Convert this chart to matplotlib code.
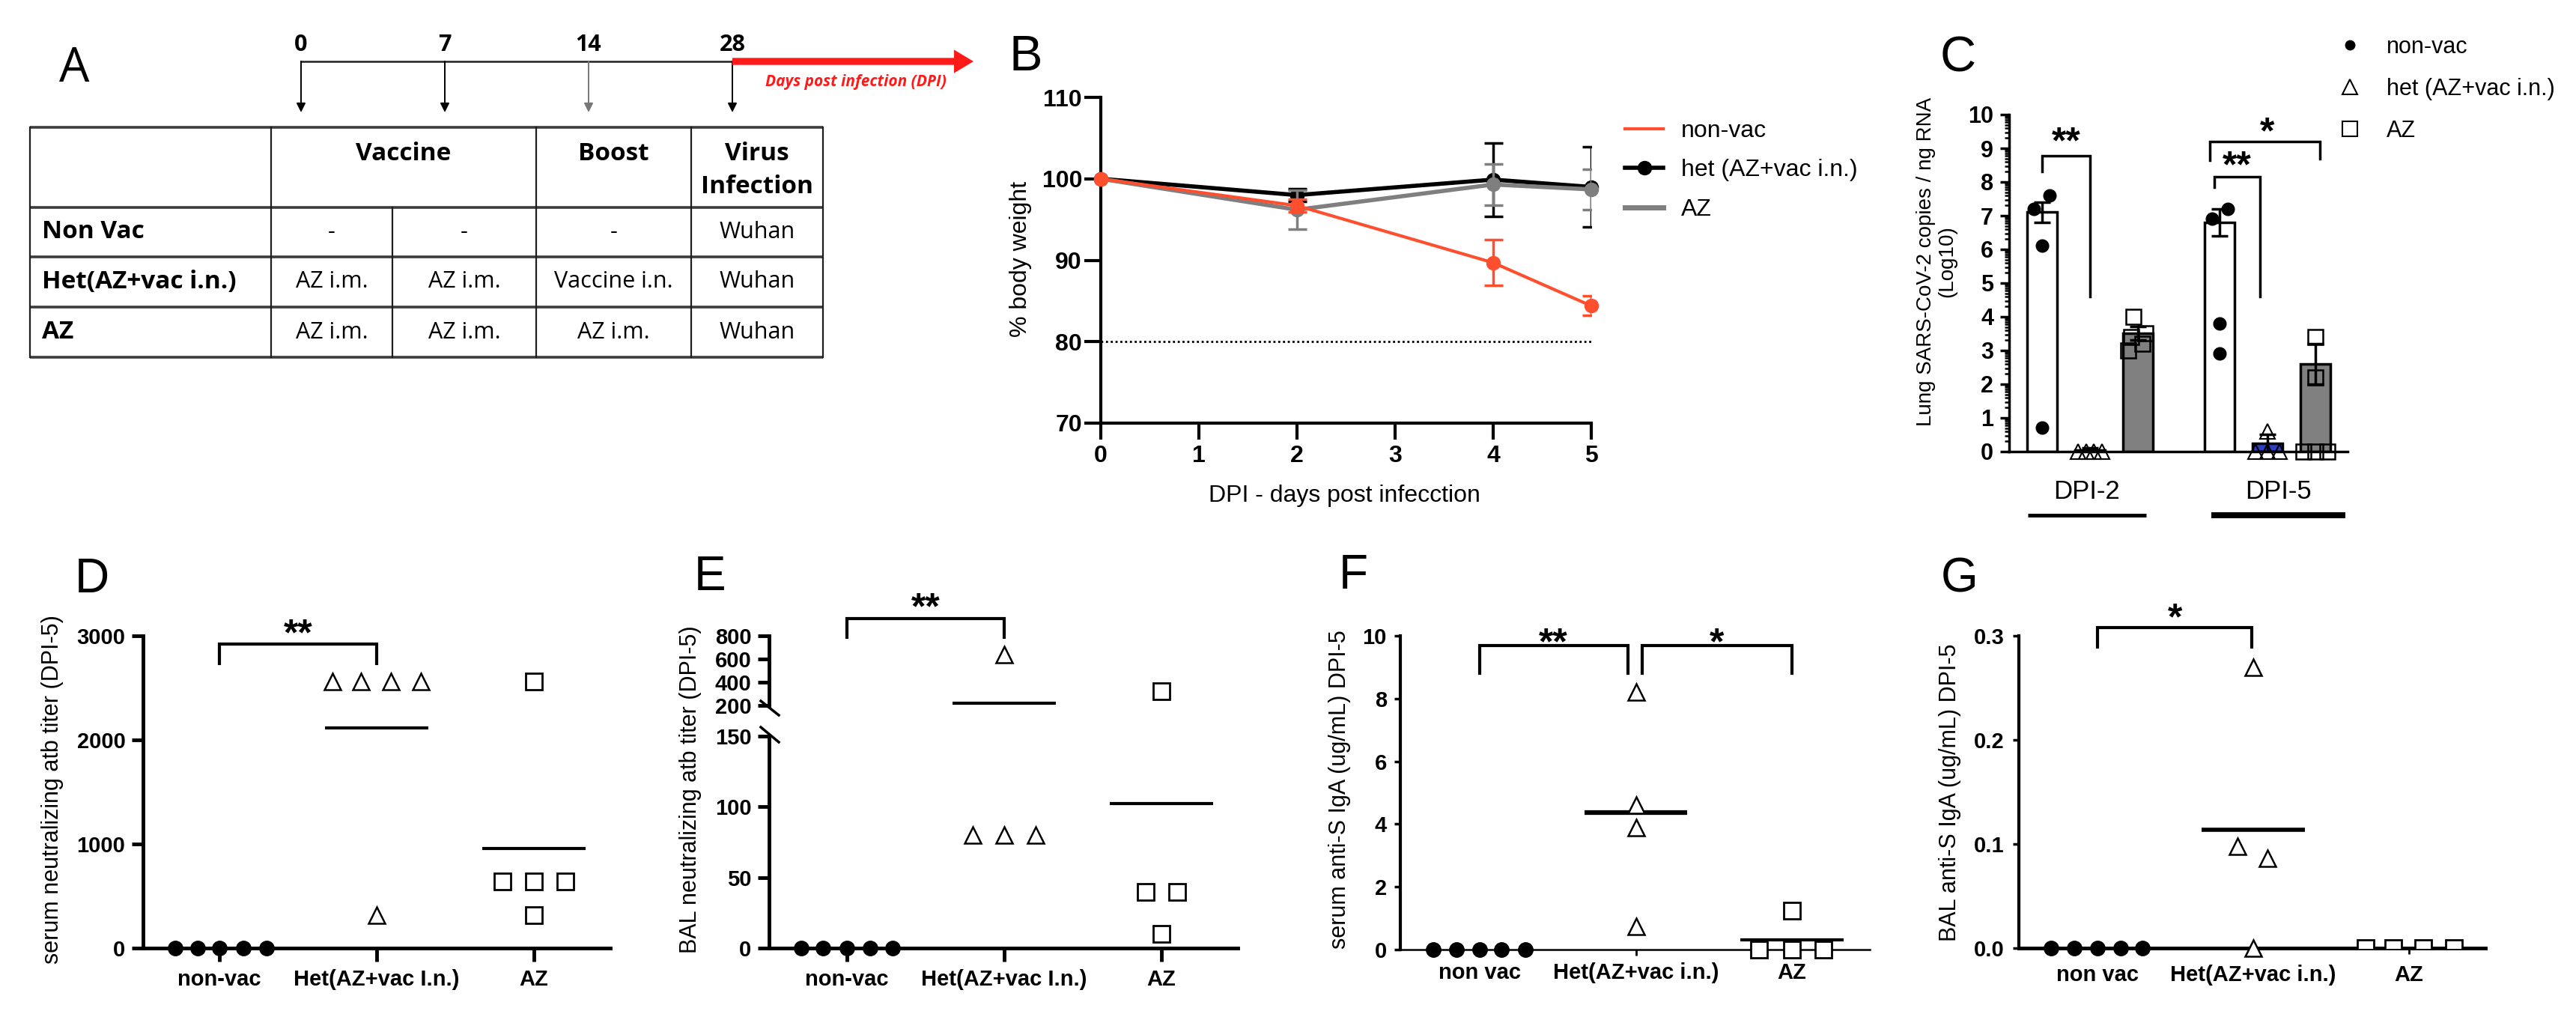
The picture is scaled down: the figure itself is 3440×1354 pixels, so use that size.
import matplotlib
matplotlib.use("Agg")
import matplotlib.pyplot as plt
import matplotlib.transforms as mtransforms
from matplotlib.lines import Line2D
import numpy as np

# ---------------- data ----------------
# Panel A : study design
timeline_days = ["0", "7", "14", "28"]
timeline_note = "Days post infection (DPI)"
header_cells = ["Vaccine", "Boost", "Virus\nInfection"]
row_labels = ["Non Vac", "Het(AZ+vac i.n.)", "AZ"]
row_cells = [["-", "-", "-", "Wuhan"],
             ["AZ i.m.", "AZ i.m.", "Vaccine i.n.", "Wuhan"],
             ["AZ i.m.", "AZ i.m.", "AZ i.m.", "Wuhan"]]

# Panel B : body weight
b_days = [0, 2, 4, 5]
b_nonvac = [100, 96.7, 89.7, 84.4]
b_nonvac_err = [0, 0.8, 2.8, 1.2]
b_het = [100, 98.0, 99.9, 99.0]
b_het_err = [0, 0.8, 4.5, 4.9]
b_az = [100, 96.2, 99.3, 98.7]
b_az_err = [0, 2.4, 2.5, 2.5]
b_labels = ["non-vac", "het (AZ+vac i.n.)", "AZ"]
b_threshold = 80

# Panel C : lung viral RNA
c_groups = ["DPI-2", "DPI-5"]
c_nonvac_mean = [7.1, 6.8]
c_nonvac_sem = [0.3, 0.4]
c_het_mean = [0.05, 0.25]
c_het_sem = [0.05, 0.25]
c_az_mean = [3.5, 2.6]
c_az_sem = [0.2, 0.6]
c_nonvac_pts = [[7.2, 7.6, 6.1, 0.7], [6.9, 7.2, 3.8, 2.9]]
c_het_pts = [[0, 0, 0, 0], [0.6, 0, 0, 0]]
c_az_pts = [[4.0, 3.5, 3.4, 3.2, 3.0], [3.4, 2.2, 0, 0, 0]]
c_labels = ["non-vac", "het (AZ+vac i.n.)", "AZ"]

# Panels D-G
cats_de = ["non-vac", "Het(AZ+vac I.n.)", "AZ"]
cats_fg = ["non vac", "Het(AZ+vac i.n.)", "AZ"]
d_nonvac = [0, 0, 0, 0, 0]
d_het = [2560, 2560, 2560, 2560, 320]
d_az = [2560, 640, 640, 640, 320]
e_nonvac = [0, 0, 0, 0, 0]
e_het = [640, 80, 80, 80]
e_az = [320, 40, 40, 10]
f_nonvac = [0, 0, 0, 0, 0]
f_het = [8.2, 4.6, 3.9, 0.75]
f_az = [1.25, 0, 0, 0]
g_nonvac = [0, 0, 0, 0, 0]
g_het = [0.27, 0.098, 0.086, 0.0]
g_az = [0, 0, 0, 0]

# ---------------- figure ----------------
W, H = 3440, 1354
fig = plt.figure(figsize=(W / 100, H / 100), dpi=100)
ARIAL = ['Liberation Sans', 'DejaVu Sans']
TABLEF = ['Open Sans', 'DejaVu Sans']
plt.rcParams['font.family'] = ARIAL
RED = '#FF4F2F'
GRAY = '#7F7F7F'


def fx(x):
    return x / W


def fy(y):
    return 1 - y / H


def add_ax(l, t, r, b):
    return fig.add_axes([fx(l), fy(b), (r - l) / W, (b - t) / H])


def panel_letter(ch, x, y, size=46, family=ARIAL):
    base = y + 0.358 * size * 100 / 72
    fig.text(fx(x), fy(base), ch, fontsize=size, ha='center', va='baseline', family=family)


def base_axes(ax, lw_left, lw_bottom):
    for s in ['top', 'right']:
        ax.spines[s].set_visible(False)
    ax.spines['left'].set_linewidth(lw_left)
    ax.spines['bottom'].set_linewidth(lw_bottom)
    ax.patch.set_alpha(0)


def bold_ticks(ax, size=21):
    for t in ax.get_xticklabels() + ax.get_yticklabels():
        t.set_fontweight('bold')
        t.set_fontsize(size)


def bracket(ax, x1, x2, ytop, yb1, yb2, lw=3):
    ax.plot([x1, x1, x2, x2], [yb1, ytop, ytop, yb2], color='k', lw=lw,
            clip_on=False, solid_joinstyle='miter', zorder=6)


def stars(ax, x, y, s, size=36):
    tr = mtransforms.offset_copy(ax.transData, fig=fig, y=-0.58 * size, units='points')
    ax.text(x, y, s, transform=tr, ha='center', va='baseline', fontsize=size,
            fontweight='bold', clip_on=False)


def ylabel(text, x, y, size=22, **kw):
    fig.text(fx(x), fy(y), text, rotation=90, ha='center', va='center', fontsize=size, **kw)


# ================= Panel A =================
axA = fig.add_axes([0, fy(700), 1300 / W, 700 / H])
axA.set_xlim(0, 1300)
axA.set_ylim(700, 0)
axA.axis('off')
panel_letter("A", 99, 86, size=46, family=TABLEF)

tl_x0, tl_step, tl_y = 402, 192, 82
tl_pos = [tl_x0 + i * tl_step for i in range(len(timeline_days))]
axA.plot([tl_pos[0], tl_pos[-1]], [tl_y, tl_y], color='#202020', lw=1.8)
for i, (xp, lab) in enumerate(zip(tl_pos, timeline_days)):
    axA.text(xp, 60, lab, ha='center', va='center', fontsize=22, fontweight='bold', family=TABLEF)
    col = '#777777' if i == 2 else 'k'
    axA.annotate('', xy=(xp, 150), xytext=(xp, tl_y),
                 arrowprops=dict(arrowstyle='-|>', color=col, lw=1.4, mutation_scale=18,
                                 shrinkA=0, shrinkB=0))
axA.annotate('', xy=(1300, tl_y), xytext=(tl_pos[-1], tl_y),
             arrowprops=dict(arrowstyle='simple,head_length=0.75,head_width=0.9,tail_width=0.27',
                             color='#FF1A1A', mutation_scale=25, shrinkA=0, shrinkB=0, lw=0))
axA.text(1143, 110, timeline_note, ha='center', va='center', fontsize=15, color='#FF1A1A',
         style='italic', fontweight='bold', family=TABLEF)

col_edges = [40, 362, 524, 716, 923, 1099]
row_edges = [170, 277, 343, 410, 477]
for yv in row_edges:
    axA.plot([col_edges[0], col_edges[-1]], [yv, yv], color='#3C3C3C', lw=2.6,
             solid_capstyle='butt')
for xv in [40, 362, 716, 923, 1099]:
    axA.plot([xv, xv], [row_edges[0], row_edges[-1]], color='#1E1E1E', lw=1.6)
axA.plot([524, 524], [row_edges[1], row_edges[-1]], color='#1E1E1E', lw=1.6)

hdr_centers = [(362 + 716) / 2, (716 + 923) / 2, (923 + 1099) / 2]
for xc, txt in zip(hdr_centers, header_cells):
    lines = txt.split('\n')
    for j, ln in enumerate(lines):
        axA.text(xc, 206 + j * 43, ln, ha='center', va='center', fontsize=24,
                 fontweight='bold', family=TABLEF)
cell_centers = [(362 + 524) / 2, (524 + 716) / 2, (716 + 923) / 2, (923 + 1099) / 2]
for r, (lab, cells) in enumerate(zip(row_labels, row_cells)):
    yc = (row_edges[r + 1] + row_edges[r + 2]) / 2
    axA.text(56, yc, lab, ha='left', va='center', fontsize=24, fontweight='bold', family=TABLEF)
    for xc, c in zip(cell_centers, cells):
        axA.text(xc, yc, c, ha='center', va='center', fontsize=22, family=TABLEF)

# ================= Panel B =================
panel_letter("B", 1370, 70, size=48)
axB = add_ax(1470, 130, 2125, 565)
base_axes(axB, 3, 3)
axB.set_xlim(0, 5)
axB.set_ylim(70, 110)
axB.axhline(b_threshold, ls=(0, (1, 1.3)), color='k', lw=2, zorder=1)
for vals, errs, col, lw, z in [(b_het, b_het_err, 'k', 4, 3),
                               (b_az, b_az_err, GRAY, 4, 4),
                               (b_nonvac, b_nonvac_err, RED, 3, 5)]:
    axB.plot(b_days, vals, color=col, lw=lw, marker='o', ms=13, zorder=z, clip_on=False)
    idx = [i for i, e in enumerate(errs) if e > 0]
    axB.errorbar([b_days[i] for i in idx], [vals[i] for i in idx], yerr=[errs[i] for i in idx],
                 fmt='none', ecolor=col, elinewidth=2.5, capsize=9, capthick=2.5, zorder=z)
axB.set_xticks(range(0, 6))
axB.set_yticks([70, 80, 90, 100, 110])
axB.tick_params(axis='both', length=16, width=3)
axB.tick_params(axis='y', pad=2)
axB.tick_params(axis='x', pad=5)
bold_ticks(axB, 23)
ylabel("% body weight", 1363, 346, size=23)
fig.text(fx(1795), fy(662), "DPI - days post infecction", ha='center', va='center', fontsize=23)
hB = [Line2D([], [], color=RED, lw=3),
      Line2D([], [], color='k', lw=4, marker='o', ms=13),
      Line2D([], [], color=GRAY, lw=5)]
fig.legend(hB, b_labels, loc='upper left', bbox_to_anchor=(fx(2170), fy(160)), frameon=False,
           fontsize=23, handlelength=1.6, handletextpad=0.75, labelspacing=0.7,
           borderpad=0, borderaxespad=0)

# ================= Panel C =================
panel_letter("C", 2615, 72, size=48)
axC = add_ax(2683, 153, 3135, 603)
base_axes(axC, 2.5, 2.5)
axC.set_xlim(-0.69, 6.375)
axC.set_ylim(0, 10)
group_step = 3.7
bar_w = 0.63
c_nonvac_off = [[-0.17, 0.16, 0, 0], [-0.16, 0.17, 0, 0]]
c_het_off = [[-0.25, -0.08, 0.08, 0.25], [0, -0.25, 0, 0.25]]
c_az_off = [[-0.1, 0.15, -0.15, 0.1, -0.2], [0, 0, -0.25, 0, 0.25]]
members = [(c_nonvac_mean, c_nonvac_sem, c_nonvac_pts, c_nonvac_off, 'white',
            dict(marker='o', ms=12, mfc='k', mec='k')),
           (c_het_mean, c_het_sem, c_het_pts, c_het_off, '#2F3FBF',
            dict(marker='^', ms=14, mfc='none', mec='k', mew=1.5)),
           (c_az_mean, c_az_sem, c_az_pts, c_az_off, '#808080',
            dict(marker='s', ms=14, mfc='none', mec='k', mew=1.8))]
for m, (means, sems, pts, offs, fc, mst) in enumerate(members):
    pos = np.array([g * group_step + m for g in range(len(c_groups))])
    axC.bar(pos, means, width=bar_w, color=fc, edgecolor='k', lw=2.5, zorder=2)
    axC.errorbar(pos, means, yerr=sems, fmt='none', ecolor='k', elinewidth=2.5,
                 capsize=8, capthick=2.5, zorder=4)
    for g in range(len(c_groups)):
        axC.plot(pos[g] + np.array(offs[g]), pts[g], ls='none', zorder=5, clip_on=False, **mst)
axC.set_xticks([])
axC.set_yticks(range(0, 11))
axC.set_yticks([i + np.log10(k) for i in range(10) for k in range(2, 10)], minor=True)
axC.tick_params(axis='y', which='major', length=9, width=2.5, pad=6)
axC.tick_params(axis='y', which='minor', length=4.5, width=1.8)
bold_ticks(axC, 22)
bracket(axC, 0, 1, 8.78, 8.3, 4.6, lw=2.5)
stars(axC, 0.5, 9.5, "**")
bracket(axC, 3.6, 4.55, 8.15, 7.85, 4.6, lw=2.5)
stars(axC, 4.06, 8.8, "**")
bracket(axC, 3.5, 5.8, 9.2, 8.65, 8.7, lw=2.5)
stars(axC, 4.69, 9.8, "*")
trC = mtransforms.blended_transform_factory(axC.transData, axC.transAxes)
c_underline = [(-0.3, 2.17, 3.6), (3.53, 6.33, 5.8)]
for name, (x1, x2, lw) in zip(c_groups, c_underline):
    axC.plot([x1, x2], [-0.189, -0.189], color='k', lw=lw, transform=trC, clip_on=False,
             solid_capstyle='butt')
    axC.text((x1 + x2) / 2, -0.12, name, transform=trC, ha='center', va='center', fontsize=25)
ylabel("Lung SARS-CoV-2 copies / ng RNA\n(Log10)", 2586, 349, size=20, linespacing=1.1)
hC = [Line2D([], [], ls='none', marker='o', color='k', ms=9),
      Line2D([], [], ls='none', marker='^', mfc='none', mec='k', ms=15, mew=1.5),
      Line2D([], [], ls='none', marker='s', mfc='none', mec='k', ms=14, mew=1.5)]
fig.legend(hC, c_labels, loc='upper left', bbox_to_anchor=(fx(3123), fy(48)), frameon=False,
           fontsize=22, handlelength=1.0, handletextpad=1.1, labelspacing=0.85,
           borderpad=0, borderaxespad=0)

# ================= Row 2 helpers =================
STY = [dict(marker='o', ms=14, mfc='k', mec='k'),
       dict(marker='^', ms=16, mfc='white', mec='k', mew=1.8),
       dict(marker='s', ms=16, mfc='white', mec='k', mew=2)]


def dot_panel(ax, groups, offsets, lo=-np.inf, hi=np.inf, clip=(False, False, False),
              mean_lw=(3, 3, 3)):
    for i, (vals, offs, st) in enumerate(zip(groups, offsets, STY)):
        v = np.array(vals, float)
        x = np.array(offs) + i
        keep = (v >= lo) & (v <= hi)
        ax.plot(x[keep], v[keep], ls='none', zorder=5, clip_on=clip[i], **st)
        mval = v.mean()
        if i > 0 and mval > 0 and lo <= mval <= hi:
            ax.plot([i - 0.33, i + 0.33], [mval, mval], color='k', lw=mean_lw[i], zorder=4,
                    solid_capstyle='butt')


def cat_axis(ax, cats, xlen, xpad, xw, ylen, ypad, yw):
    ax.set_xticks(range(len(cats)))
    ax.set_xticklabels(cats)
    ax.tick_params(axis='x', length=xlen, width=xw, pad=xpad)
    ax.tick_params(axis='y', length=ylen, width=yw, pad=ypad)
    bold_ticks(ax, 21)


# ================= Panel D =================
panel_letter("D", 123, 768)
axD = add_ax(191, 849, 815, 1266)
base_axes(axD, 3.5, 3.5)
axD.set_xlim(-0.486, 2.486)
axD.set_ylim(0, 3000)
axD.set_yticks([0, 1000, 2000, 3000])
d_off = [[-0.28, -0.14, 0, 0.15, 0.3], [-0.28, -0.1, 0.09, 0.28, 0], [0, -0.2, 0, 0.2, 0]]
dot_panel(axD, [d_nonvac, d_het, d_az], d_off)
cat_axis(axD, cats_de, 13, 7, 3.5, 11, 6, 3.5)
bracket(axD, 0, 1, 2920, 2735, 2735)
stars(axD, 0.5, 3120, "**")
ylabel("serum neutralizing atb titer (DPI-5)", 70, 1054)

# ================= Panel E =================
panel_letter("E", 948, 765)
axEl = add_ax(1027, 983, 1653, 1266)
axEu = add_ax(1027, 849, 1653, 942)
base_axes(axEl, 3.5, 3.5)
base_axes(axEu, 3.5, 3.5)
axEu.spines['bottom'].set_visible(False)
for a in (axEl, axEu):
    a.set_xlim(-0.495, 2.486)
axEl.set_ylim(0, 150)
axEu.set_ylim(200, 800)
axEl.set_yticks([0, 50, 100, 150])
axEu.set_yticks([200, 400, 600, 800])
e_off = [[-0.29, -0.15, 0, 0.15, 0.29], [0, -0.2, 0, 0.2], [0, -0.1, 0.1, 0]]
dot_panel(axEl, [e_nonvac, e_het, e_az], e_off, lo=0, hi=150)
dot_panel(axEu, [e_nonvac, e_het, e_az], e_off, lo=200, hi=800)
cat_axis(axEl, cats_de, 13, 7, 3.5, 11, 6, 3.5)
axEu.set_xticks([])
axEu.tick_params(axis='y', length=11, width=3.5, pad=6)
bold_ticks(axEu, 21)
bracket(axEu, 0, 1, 948, 787, 787)
stars(axEu, 0.5, 1135, "**")
for (ya, yb) in [(936, 955), (971, 991)]:
    fig.add_artist(Line2D([fx(1016), fx(1040)], [fy(ya), fy(yb)], color='k', lw=2.5))
ylabel("BAL neutralizing atb titer (DPI-5)", 922, 1054)

# ================= Panel F =================
panel_letter("F", 1807, 763)
axF = add_ax(1870, 849, 2497, 1268)
base_axes(axF, 3, 1.8)
axF.set_xlim(-0.51, 2.5)
axF.set_ylim(0, 10)
axF.set_yticks([0, 2, 4, 6, 8, 10])
f_off = [[-0.3, -0.15, 0, 0.14, 0.29], [0, 0, 0, 0], [0, -0.21, 0, 0.2]]
dot_panel(axF, [f_nonvac, f_het, f_az], f_off, mean_lw=(3, 4.5, 3))
cat_axis(axF, cats_fg, 6, 6, 2, 6, 7, 2.5)
bracket(axF, 0, 0.95, 9.68, 8.8, 8.8)
stars(axF, 0.47, 10.1, "**")
bracket(axF, 1.04, 2.0, 9.68, 8.8, 8.8)
stars(axF, 1.52, 10.1, "*")
ylabel("serum anti-S IgA (ug/mL) DPI-5", 1789, 1054)

# ================= Panel G =================
panel_letter("G", 2617, 768)
axG = add_ax(2696, 849, 3319, 1266)
base_axes(axG, 3, 3.5)
axG.set_xlim(-0.505, 2.49)
axG.set_ylim(0, 0.3)
axG.set_yticks([0, 0.1, 0.2, 0.3])
axG.set_yticklabels(['0.0', '0.1', '0.2', '0.3'])
g_off = [[-0.3, -0.15, 0, 0.15, 0.29], [0, -0.1, 0.09, 0], [-0.28, -0.1, 0.09, 0.29]]
dot_panel(axG, [g_nonvac, g_het, g_az], g_off, clip=(False, False, True), mean_lw=(3, 4, 3))
cat_axis(axG, cats_fg, 6, 10, 2, 6, 8, 2.5)
bracket(axG, 0, 0.99, 0.308, 0.289, 0.289)
stars(axG, 0.5, 0.327, "*")
ylabel("BAL anti-S IgA (ug/mL) DPI-5", 2604, 1058)

fig.savefig("out.png", dpi=100)
